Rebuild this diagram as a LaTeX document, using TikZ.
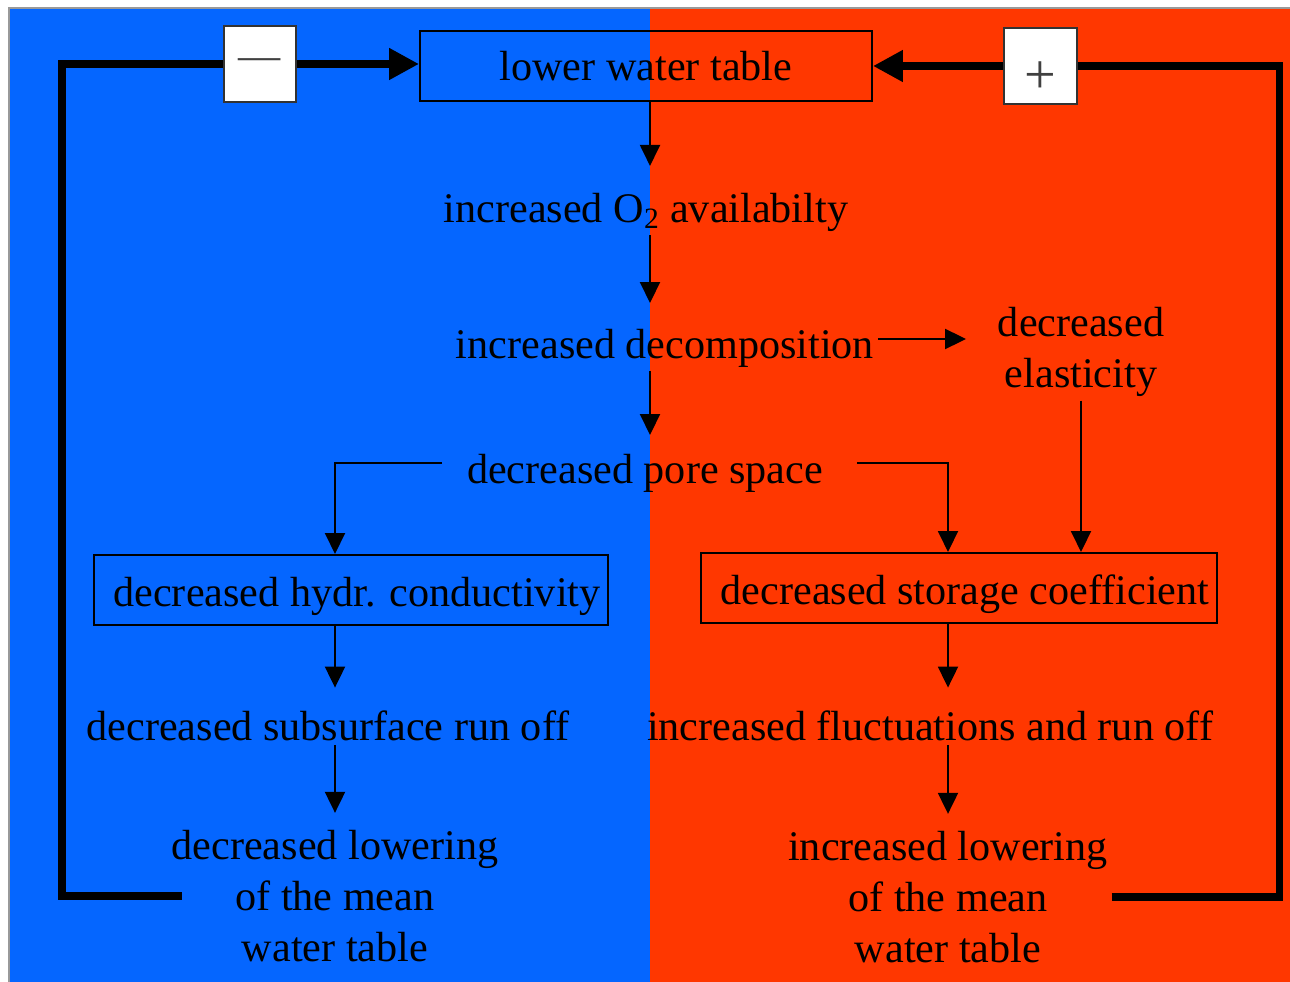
\documentclass[tikz,border=0pt]{standalone}
\usepackage{fontspec}
\setmainfont{Liberation Serif}
\usetikzlibrary{arrows.meta}
\definecolor{coolside}{RGB}{5,102,255}
\definecolor{warmside}{RGB}{255,55,0}

\begin{document}
\begin{tikzpicture}[x=0.02cm, y=-0.02cm,
    font=\fontsize{24}{29}\selectfont,
    plain/.style={align=center, inner sep=2pt},
    framed/.style={rectangle, draw, line width=0.04cm, minimum height=1.4cm, inner sep=2pt},
    lowtext/.style={text height=0.68cm, text depth=0cm},
    signbox/.style={rectangle, draw=black!80, fill=white, line width=0.04cm, minimum width=1.46cm, minimum height=1.52cm, inner sep=0pt},
    flow/.style={-{Triangle[length=0.42cm, width=0.4cm]}, line width=0.04cm},
    feedback/.style={line width=0.15cm},
    feedtip/.style={-{Triangle[length=0.6cm, width=0.6cm]}, line width=0.15cm}]
    % two halves of the background
    \useasboundingbox (0,0) rectangle (1290,982);
    \fill[white] (0,0) rectangle (1290,982);
    \fill[coolside] (9,8) rectangle (650,982);
    \fill[warmside] (650,8) rectangle (1290,982);
    \draw[black!40, line width=0.03cm] (9,982) -- (9,8) -- (1290,8);

    \node (top) at (646, 66) [framed, minimum width=9.04cm] {lower water table};
    \node (minus) at (260, 64) [signbox] {\textcolor{black!75}{—}};
    \node (plus) at (1040, 66) [signbox, label={[yshift=-0.24cm, font=\fontsize{32}{32}\selectfont, text=black!75]center:+}] {};

    \node (o2) at (646, 212) [plain] {increased O\textsubscript{2} availabilty};
    \node (dec) at (665, 348) [plain] {increased decomposition};
    \node (pore) at (645, 473) [plain] {decreased pore space};
    \node (elas) at (1081, 352) [plain] {decreased\\elasticity};
    \node (hydr) at (351, 590) [framed, lowtext, minimum width=10.3cm] {\hspace{0.24cm}decreased hydr. conductivity};
    \node (stor) at (959, 588) [framed, lowtext, minimum width=10.32cm] {\hspace{0.24cm}decreased storage coefficient};
    \node (sub) at (328, 726) [plain] {decreased subsurface run off};
    \node (fluc) at (930, 726) [plain] {increased fluctuations and run off};
    \node (lowL) at (335, 896) [plain] {decreased lowering\\of the mean\\water table};
    \node (lowR) at (948, 897) [plain] {increased lowering\\of the mean\\water table};
    \coordinate (axis) at (650, 0);

    % main chain
    \draw[flow, shorten >=0.46cm] (top.south -| axis) -- (o2.north -| axis);
    \draw[flow, shorten >=0.44cm] (o2.south -| axis) -- (dec.north -| axis);
    \draw[flow, shorten >=0.3cm] (dec.south -| axis) -- (pore.north -| axis);
    \draw[flow, shorten >=0.56cm] ([yshift=0.18cm]dec.east) -- ([yshift=0.18cm]dec.east -| elas.west);
    \draw[flow] (elas.south) -- (elas.south |- stor.north);
    \draw[flow] ([xshift=-0.42cm, yshift=0.2cm]pore.west) -| (hydr.north -| lowL);
    \draw[flow] ([xshift=0.6cm, yshift=0.2cm]pore.east) -| (stor.north -| lowR);
    \draw[flow, shorten >=0.39cm] (hydr.south -| lowL) -- (sub.north -| lowL);
    \draw[flow, shorten >=0.27cm] (sub.south -| lowL) -- (lowL.north);
    \draw[flow, shorten >=0.39cm] (stor.south -| lowR) -- (fluc.north -| lowR);
    \draw[flow, shorten >=0.27cm] (fluc.south -| lowR) -- (lowR.north);

    % feedback loops
    \draw[feedback] ([xshift=0.28cm]lowL.west) -- ++(-120,0) |- (minus.west);
    \draw[feedtip] (minus.east) -- (minus.east -| top.west);
    \draw[feedback] (lowR.east) -- ++(168,0) |- (plus.east);
    \draw[feedtip] (plus.west) -- (top.east);
\end{tikzpicture}
\end{document}
